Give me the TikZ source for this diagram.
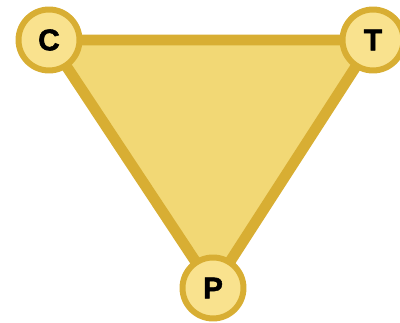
\documentclass[tikz,border=0pt]{standalone}
\usepackage{fontspec}
\setmainfont{Liberation Sans}
\newfontfamily\heavyfont[FakeBold=1.8]{Liberation Sans Bold}
\definecolor{goldline}{HTML}{D8AE33}
\definecolor{goldfill}{HTML}{F2D875}
\definecolor{goldcirc}{HTML}{F9E28E}
\tikzset{
  vertex/.style={circle,draw=goldline,fill=goldcirc,line width=3.4pt,
    minimum size=1.22cm,inner sep=0pt,font=\fontsize{17}{17}\heavyfont},
  side/.style={goldline,line width=6.2pt,line join=round}
}
\begin{document}
\begin{tikzpicture}[x=0.02cm,y=-0.02cm]
                  \useasboundingbox (0,0) rectangle (400,323);
                  \coordinate (c) at (49,40);
                  \coordinate (t) at (373,40);
                  \coordinate (p) at (213,288);
                  \fill[goldfill] (c) -- (t) -- (p) -- cycle;
                  \draw[side] (c) -- (t) -- (p) -- cycle;
                  \node[vertex] (C) at (c) {C};
                  \node[vertex] (T) at (t) {T};
                  \node[vertex] (P) at (p) {P};
              \end{tikzpicture}
\end{document}
